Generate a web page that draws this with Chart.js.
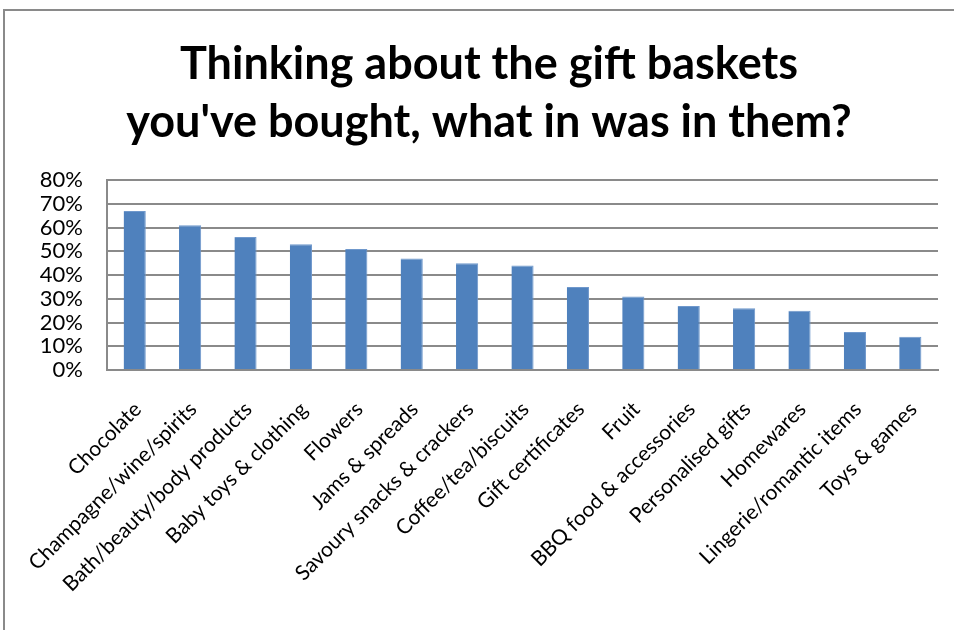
<!DOCTYPE html>
<html>
<head>
<meta charset="utf-8">
<script src="https://cdn.jsdelivr.net/npm/chart.js@4"></script>
<style>
  html, body { margin: 0; padding: 0; background: #fff; }
  #wrap { position: relative; width: 954px; height: 630px; overflow: hidden; }
  #frame { position: absolute; left: 3px; top: 9px; width: 960px; height: 640px;
           border-top: 2px solid #8a8a8a; border-left: 2px solid #8a8a8a; }
  canvas { position: absolute; left: 0; top: 0; }
</style>
</head>
<body>
<div id="wrap">
  <div id="frame"></div>
  <canvas id="basket_chart" width="954" height="630"></canvas>
</div>
<script>
// Categories and share of respondents (%)
let categories = [
  "Chocolate", "Champagne/wine/spirits", "Bath/beauty/body products",
  "Baby toys & clothing", "Flowers", "Jams & spreads",
  "Savoury snacks & crackers", "Coffee/tea/biscuits", "Gift certificates",
  "Fruit", "BBQ food & accessories", "Personalised gifts",
  "Homewares", "Lingerie/romantic items", "Toys & games"
];
let shares = [67, 61, 56, 53, 51, 47, 45, 44, 35, 31, 27, 26, 25, 16, 14];

let titleLines = ["Thinking about the gift baskets", "you've bought, what in was in them?"];

const gridGray = "#8a8a8a";
const font = "Lato, 'Open Sans', sans-serif";

window.onload = () => {
  let ctx = document.getElementById("basket_chart").getContext("2d");

  let chart = new Chart(ctx, {
    type: "bar",
    data: {
      labels: categories,
      datasets: [{
        data: shares,
        backgroundColor: "#4F81BD",
        borderColor: "#6f98cc",
        borderWidth: { top: 1, right: 1, left: 0, bottom: 0 },
        categoryPercentage: 1,
        barPercentage: 0.4
      }]
    },
    options: {
      responsive: false,
      animation: false,
      layout: { padding: { left: 40, right: 16, top: 35, bottom: 0 } },
      plugins: {
        legend: { display: false },
        tooltip: { enabled: false },
        title: {
          display: true,
          text: titleLines,
          color: "#000",
          font: { family: font, size: 45, weight: "bold", lineHeight: "58px" },
          padding: { top: 0, bottom: 29 }
        }
      },
      scales: {
        x: {
          grid: { display: false },
          border: { color: gridGray, width: 2 },
          ticks: {
            color: "#000",
            font: { family: font, size: 21 },
            minRotation: 45,
            maxRotation: 45,
            autoSkip: false,
            padding: 19,
            labelOffset: 3
          },
          afterFit: (s) => { s.height = 260; }
        },
        y: {
          min: 0,
          max: 80,
          grid: { color: gridGray, lineWidth: 2, drawTicks: false },
          border: { color: gridGray, width: 2 },
          ticks: {
            stepSize: 10,
            autoSkip: false,
            color: "#000",
            font: { family: font, size: 22 },
            padding: 24,
            callback: (v) => v + "%"
          },
          afterFit: (s) => { s.width = 67; }
        }
      }
    }
  });
};
</script>
</body>
</html>
